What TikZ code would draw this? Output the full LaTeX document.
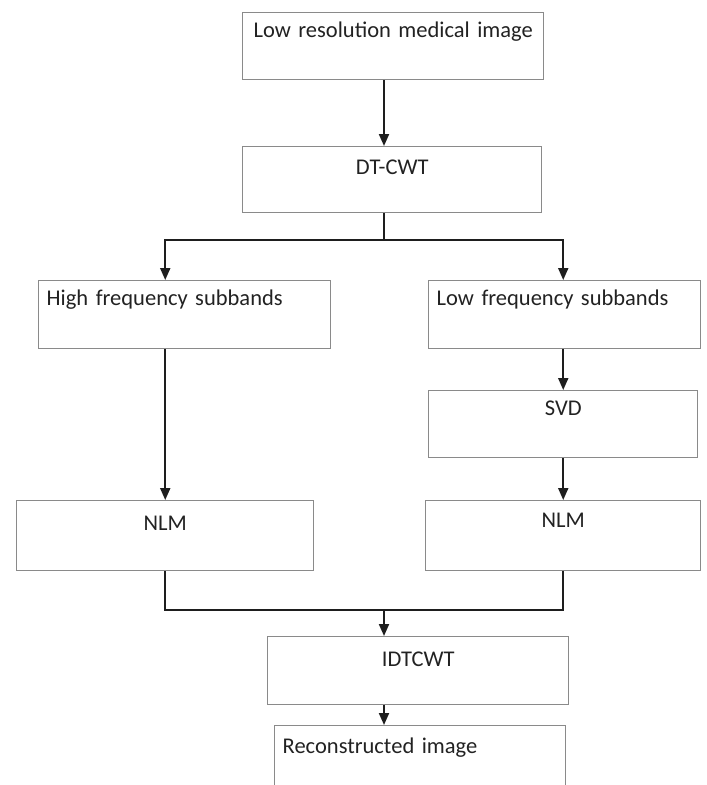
\documentclass[tikz,border=0pt]{standalone}
\usepackage{fontspec}
\setmainfont{Carlito}
\usepackage{xcolor}
\usepackage{tikz}
\usetikzlibrary{arrows.meta}
\definecolor{boxgray}{HTML}{8A8A8A}
\definecolor{linegray}{HTML}{1E1E1E}
\definecolor{textgray}{HTML}{222222}

\begin{document}
\begin{tikzpicture}[x=0.025cm,y=-0.025cm,
    stage/.style={draw=boxgray, line width=1pt, anchor=north west, inner xsep=0.2cm, inner ysep=0pt,
      text=textgray, font=\fontsize{16}{19}\selectfont, text height=0.625cm},
    link/.style={draw=linegray, line width=1.4pt},
    flow/.style={link, -{Triangle[length=0.3cm,width=0.25cm]}}]
	\useasboundingbox (0,0) rectangle (707,785);
	% boxes
	\node [stage, text width=7.125cm, text depth=1.05cm, align=center] (lowres) at (242,12) {Low resolution medical image};
	\node [stage, text width=7.075cm, text height=0.7cm, text depth=0.95cm, align=center] (dtcwt) at (242,146) {DT-CWT};
	\node [stage, text width=6.9cm, text depth=1.075cm, align=left] (high) at (38,280) {High frequency subbands};
	\node [stage, text width=6.4cm, text depth=1.075cm, align=left] (low) at (428,280) {Low frequency subbands};
	\node [stage, text width=6.325cm, text depth=1.05cm, align=center] (svd) at (428,390) {SVD};
	\node [stage, text width=7.025cm, text height=0.75cm, text depth=1.0cm, align=center] (nlml) at (16,500) {NLM};
	\node [stage, text width=6.475cm, text height=0.675cm, text depth=1.075cm, align=center] (nlmr) at (425,500) {NLM};
	\node [stage, text width=7.125cm, text height=0.75cm, text depth=0.95cm, align=center] (idtcwt) at (267,636) {IDTCWT};
	\node [stage, text width=6.875cm, text height=0.7cm, text depth=1.3cm, align=left] (recon) at (274,725) {Reconstructed image};
	% junctions
	\coordinate (split) at (384,240);
	\coordinate (merge) at (384,610);
	% connectors
	\draw [flow] (lowres.south -| split) -- (dtcwt.north -| split);
	\draw [link] (dtcwt.south -| split) -- (split);
	\draw [flow] (split) -| (high.north -| nlml.north);
	\draw [flow] (split) -| (low.north -| svd.north);
	\draw [flow] (high.south -| nlml.north) -- (nlml.north);
	\draw [flow] (low.south -| svd.north) -- (svd.north);
	\draw [flow] (svd.south) -- (svd.south |- nlmr.north);
	\draw [link] (nlml.south) |- (merge) -| (svd.south |- nlmr.south);
	\draw [flow] (merge) -- (merge |- idtcwt.north);
	\draw [flow] (idtcwt.south -| merge) -- (recon.north -| merge);
\end{tikzpicture}
\end{document}
